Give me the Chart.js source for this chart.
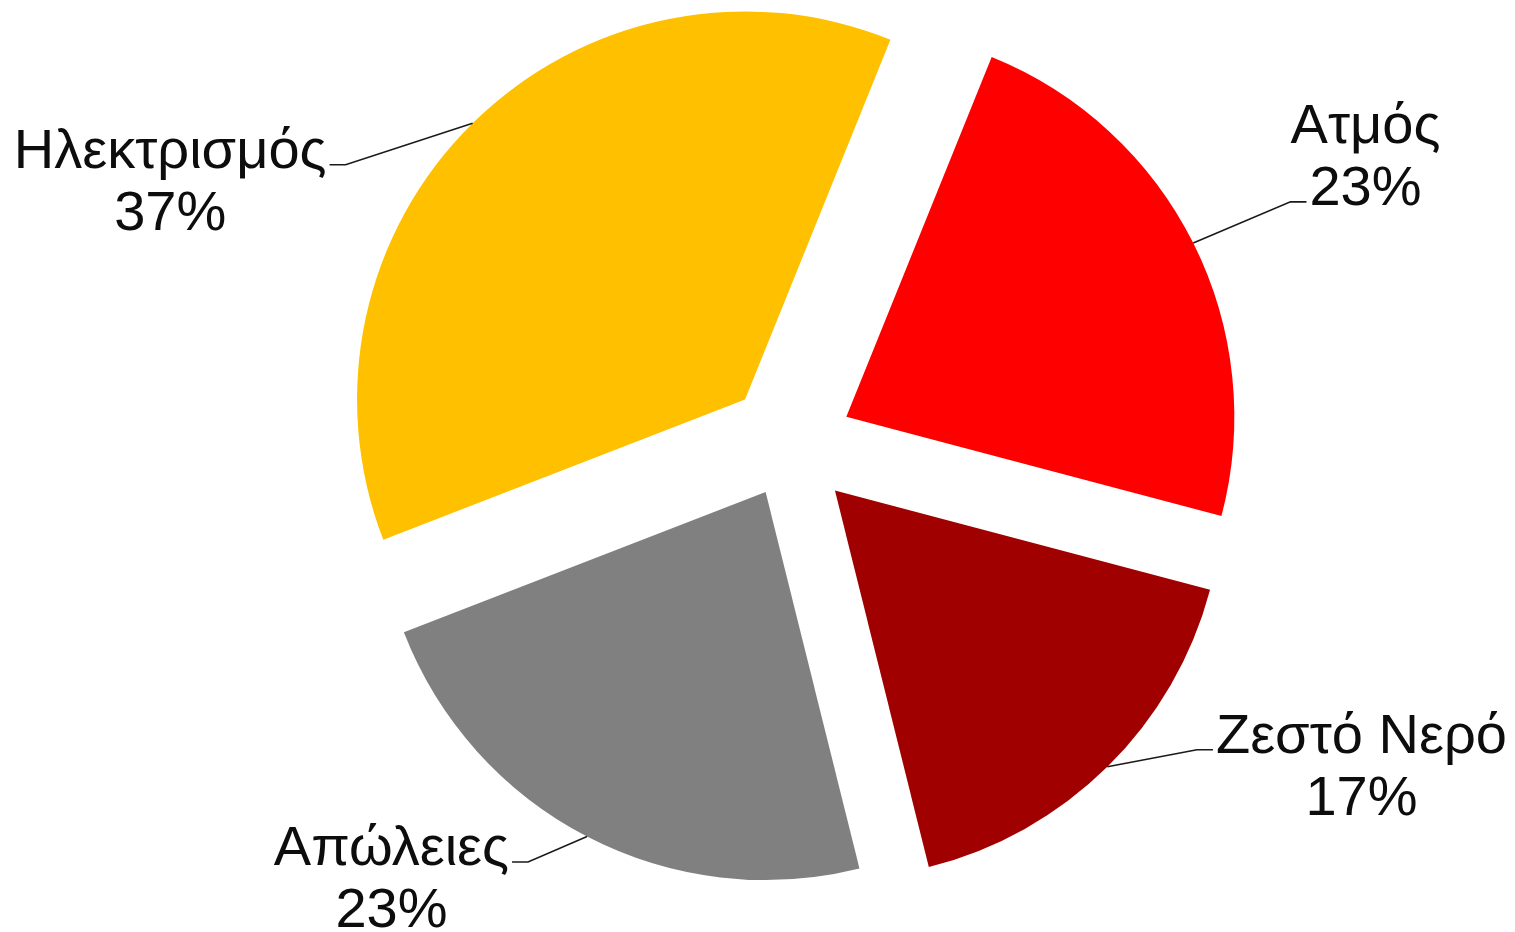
<!DOCTYPE html>
<html>
<head>
<meta charset="utf-8">
<script src="https://cdn.jsdelivr.net/npm/chart.js@4"></script>
<style>
  html, body { margin: 0; padding: 0; background: #ffffff; }
  #wrap { width: 1515px; height: 932px; position: relative; }
</style>
</head>
<body>
<div id="wrap"><canvas id="c"></canvas></div>
<script>
// ---- data ----
const categories = ['Ατμός', 'Ζεστό Νερό', 'Απώλειες', 'Ηλεκτρισμός'];
const values = [23, 17, 23, 37];
const colors = ['#FF0000', '#A00000', '#808080', '#FFC000'];

// ---- styles (layout only) ----
const explode = [63, 64, 53, 64];                  // px each slice is pulled out
const labelAngles = [62.3, 118.3, 223.5, 294.1];   // degrees clockwise from top
const labelDistances = [650, 649, 579, 679];
const leaderLine = [2, 1, 1, 1];                   // which text line the leader attaches to
const fontSpec = '56px "Liberation Sans", Arial, sans-serif';
const lineH = 62;

function sliceShift(arc, i) {
  const mid = (arc.startAngle + arc.endAngle) / 2;
  return [Math.cos(mid) * explode[i], Math.sin(mid) * explode[i]];
}

const explodePlugin = {
  id: 'explodedSlices',
  beforeDatasetsDraw(chart) {
    const ctx = chart.ctx;
    const meta = chart.getDatasetMeta(0);
    meta.data.forEach((arc, i) => {
      const [dx, dy] = sliceShift(arc, i);
      ctx.save();
      ctx.translate(dx, dy);
      arc.draw(ctx, chart.chartArea);
      ctx.restore();
    });
    return false;
  },
  afterDraw(chart) {
    const ctx = chart.ctx;
    const meta = chart.getDatasetMeta(0);
    const ca = chart.chartArea;
    const pcx = (ca.left + ca.right) / 2;
    const pcy = (ca.top + ca.bottom) / 2;
    const total = values.reduce((a, b) => a + b, 0);
    ctx.save();
    ctx.font = fontSpec;
    ctx.fillStyle = '#0d0d0d';
    ctx.strokeStyle = '#1a1a1a';
    ctx.lineWidth = 1.6;
    meta.data.forEach((arc, i) => {
      const [dx, dy] = sliceShift(arc, i);
      const mid = (arc.startAngle + arc.endAngle) / 2;
      const R = arc.outerRadius;
      const ax = arc.x + dx + Math.cos(mid) * R;
      const ay = arc.y + dy + Math.sin(mid) * R;

      const ang = (labelAngles[i] - 90) * Math.PI / 180;
      const lx = pcx + Math.cos(ang) * labelDistances[i];
      const ly = pcy + Math.sin(ang) * labelDistances[i];
      const line1 = categories[i];
      const line2 = Math.round(values[i] / total * 100) + '%';
      ctx.textAlign = 'center';
      ctx.textBaseline = 'alphabetic';
      ctx.fillText(line1, lx, ly);
      ctx.fillText(line2, lx, ly + lineH);

      const txt = leaderLine[i] === 1 ? line1 : line2;
      const w = ctx.measureText(txt).width;
      const by = ly + (leaderLine[i] - 1) * lineH - 3;
      const leftSide = lx < pcx;
      const ex = leftSide ? lx + w / 2 + 3 : lx - w / 2 - 3;
      const kx = leftSide ? ex + 16 : ex - 16;
      ctx.beginPath();
      ctx.moveTo(ax, ay);
      ctx.lineTo(kx, by);
      ctx.lineTo(ex, by);
      ctx.stroke();
    });
    ctx.restore();
  }
};

new Chart(document.getElementById('c'), {
  type: 'pie',
  data: {
    labels: categories,
    datasets: [{
      data: values,
      backgroundColor: colors,
      borderWidth: 0,
      offset: 0,
      hoverOffset: 0
    }]
  },
  options: {
    responsive: true,
    maintainAspectRatio: false,
    animation: false,
    events: [],
    rotation: 22,
    radius: 388,
    layout: { padding: { left: 65, right: 0, top: 0, bottom: 42 } },
    plugins: {
      legend: { display: false },
      tooltip: { enabled: false },
      title: { display: false }
    }
  },
  plugins: [explodePlugin]
});
</script>
</body>
</html>
